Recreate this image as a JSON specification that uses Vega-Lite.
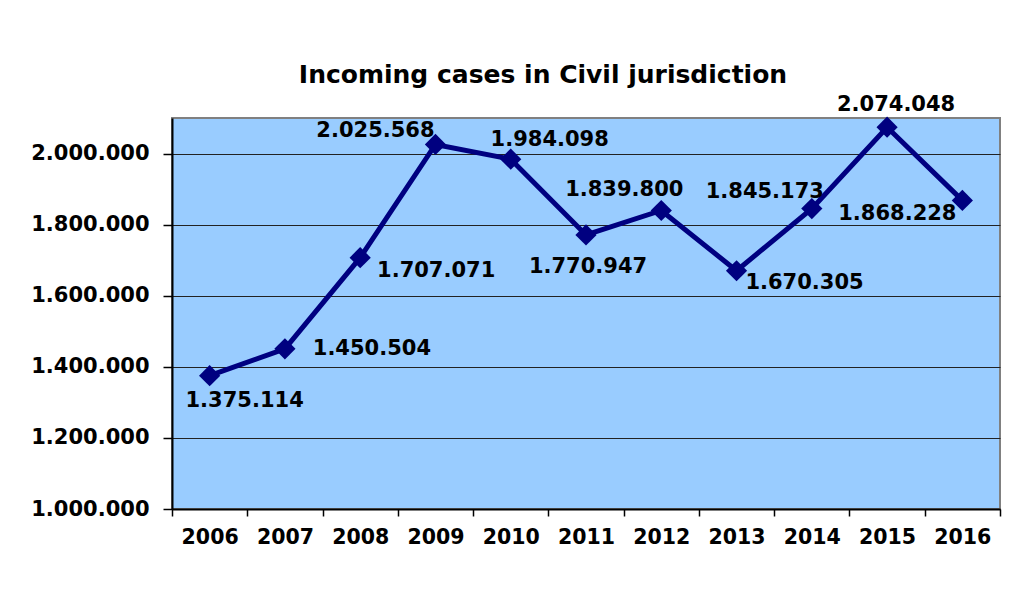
{
  "$schema": "https://vega.github.io/schema/vega-lite/v6.json",
  "width": 828,
  "height": 391,
  "autosize": {"type": "none"},
  "padding": {"left": 172, "top": 118, "right": 35, "bottom": 81},
  "background": "white",
  "title": {
    "text": "Incoming cases in Civil jurisdiction",
    "font": "DejaVu Sans",
    "fontSize": 25,
    "fontWeight": "bold",
    "color": "black",
    "anchor": "middle",
    "dx": -43,
    "offset": 6
  },
  "config": {
    "locale": {"number": {"decimal": ",", "thousands": ".", "grouping": [3], "currency": ["", ""]}},
    "view": {"fill": "#99CCFF", "stroke": "#808080", "strokeWidth": 2},
    "text": {"font": "DejaVu Sans", "fontSize": 21, "fontWeight": "bold", "color": "black", "align": "center", "baseline": "middle"}
  },
  "data": {
    "values": [
      {"year": "2006", "cases": 1375114},
      {"year": "2007", "cases": 1450504},
      {"year": "2008", "cases": 1707071},
      {"year": "2009", "cases": 2025568},
      {"year": "2010", "cases": 1984098},
      {"year": "2011", "cases": 1770947},
      {"year": "2012", "cases": 1839800},
      {"year": "2013", "cases": 1670305},
      {"year": "2014", "cases": 1845173},
      {"year": "2015", "cases": 2074048},
      {"year": "2016", "cases": 1868228}
    ]
  },
  "encoding": {
    "x": {
      "field": "year",
      "type": "ordinal",
      "scale": {"type": "band", "paddingInner": 0, "paddingOuter": 0},
      "axis": {
        "title": null,
        "labelAngle": 0,
        "labelFont": "DejaVu Sans",
        "labelFontSize": 20.5,
        "labelFontWeight": "bold",
        "labelColor": "black",
        "labelPadding": 11,
        "tickBand": "extent",
        "tickSize": 7,
        "tickColor": "black",
        "tickWidth": 1.5,
        "domainColor": "black",
        "domainWidth": 2,
        "grid": false
      }
    },
    "y": {
      "field": "cases",
      "type": "quantitative",
      "scale": {"domain": [1000000, 2100000], "nice": false, "zero": false},
      "axis": {
        "title": null,
        "values": [1000000, 1200000, 1400000, 1600000, 1800000, 2000000],
        "format": ",d",
        "labelFont": "DejaVu Sans",
        "labelFontSize": 21,
        "labelFontWeight": "bold",
        "labelColor": "black",
        "labelPadding": 14,
        "tickSize": 9,
        "tickColor": "black",
        "tickWidth": 1.5,
        "domainColor": "black",
        "domainWidth": 2,
        "grid": true,
        "gridColor": "#222222",
        "gridWidth": 1.2
      }
    }
  },
  "layer": [
    {"mark": {"type": "line", "color": "#000080", "strokeWidth": 5}},
    {"mark": {"type": "point", "shape": "diamond", "filled": true, "color": "#000080", "size": 450, "opacity": 1}},
    {"transform": [{"filter": "datum.year == '2006'"}], "mark": {"type": "text", "dx": 35, "dy": 25}, "encoding": {"text": {"field": "cases", "type": "quantitative", "format": ",d"}}},
    {"transform": [{"filter": "datum.year == '2007'"}], "mark": {"type": "text", "dx": 87, "dy": 0}, "encoding": {"text": {"field": "cases", "type": "quantitative", "format": ",d"}}},
    {"transform": [{"filter": "datum.year == '2008'"}], "mark": {"type": "text", "dx": 76, "dy": 13}, "encoding": {"text": {"field": "cases", "type": "quantitative", "format": ",d"}}},
    {"transform": [{"filter": "datum.year == '2009'"}], "mark": {"type": "text", "dx": -60, "dy": -13}, "encoding": {"text": {"field": "cases", "type": "quantitative", "format": ",d"}}},
    {"transform": [{"filter": "datum.year == '2010'"}], "mark": {"type": "text", "dx": 39, "dy": -19}, "encoding": {"text": {"field": "cases", "type": "quantitative", "format": ",d"}}},
    {"transform": [{"filter": "datum.year == '2011'"}], "mark": {"type": "text", "dx": 2, "dy": 32}, "encoding": {"text": {"field": "cases", "type": "quantitative", "format": ",d"}}},
    {"transform": [{"filter": "datum.year == '2012'"}], "mark": {"type": "text", "dx": -37, "dy": -20}, "encoding": {"text": {"field": "cases", "type": "quantitative", "format": ",d"}}},
    {"transform": [{"filter": "datum.year == '2013'"}], "mark": {"type": "text", "dx": 68, "dy": 12}, "encoding": {"text": {"field": "cases", "type": "quantitative", "format": ",d"}}},
    {"transform": [{"filter": "datum.year == '2014'"}], "mark": {"type": "text", "dx": -47, "dy": -17}, "encoding": {"text": {"field": "cases", "type": "quantitative", "format": ",d"}}},
    {"transform": [{"filter": "datum.year == '2015'"}], "mark": {"type": "text", "dx": 9, "dy": -22}, "encoding": {"text": {"field": "cases", "type": "quantitative", "format": ",d"}}},
    {"transform": [{"filter": "datum.year == '2016'"}], "mark": {"type": "text", "dx": -65, "dy": 14}, "encoding": {"text": {"field": "cases", "type": "quantitative", "format": ",d"}}}
  ]
}
